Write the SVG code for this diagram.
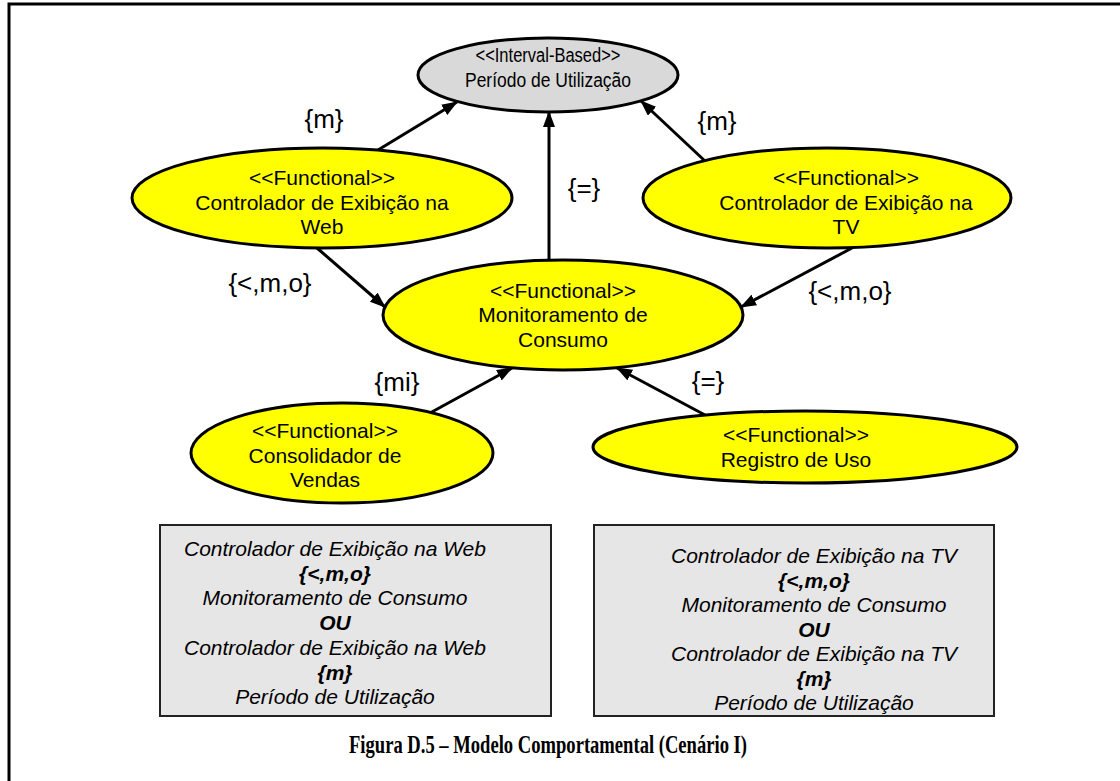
<svg xmlns="http://www.w3.org/2000/svg" width="1120" height="781" viewBox="0 0 1120 781">
<defs>
<style>
.node{fill:#ffff00;stroke:#000;stroke-width:3}
.gray{fill:#d9d9d9;stroke:#000;stroke-width:3}
.t{font-family:"Liberation Sans",Arial,sans-serif;font-size:21px;fill:#000;text-anchor:middle}
.ts{font-size:20px}
.lbl{font-family:"Liberation Sans",Arial,sans-serif;font-size:26px;fill:#000;text-anchor:middle}
.box{fill:#e6e6e6;stroke:#222;stroke-width:2}
.bt{font-family:"Liberation Sans",Arial,sans-serif;font-size:21px;font-style:italic;fill:#000;text-anchor:middle}
.bb{font-weight:bold}
.conn{stroke:#000;stroke-width:3;fill:none;marker-end:url(#arr)}
.cap{font-family:"Liberation Serif","Times New Roman",serif;font-size:25px;font-weight:bold;fill:#000;text-anchor:middle}
</style>
<marker id="arr" markerUnits="userSpaceOnUse" markerWidth="16" markerHeight="12" refX="15" refY="6" orient="auto">
<path d="M0,0 L16,6 L0,12 z" fill="#000"/>
</marker>
</defs>
<rect x="0" y="0" width="1120" height="781" fill="#fff"/>
<path d="M9,781 V4 H1120" fill="none" stroke="#000" stroke-width="3"/>

<g id="connectors">
<line class="conn" x1="378" y1="150" x2="457" y2="102"/>
<line class="conn" x1="549" y1="262" x2="549" y2="112"/>
<line class="conn" x1="705" y1="161" x2="641" y2="101"/>
<line class="conn" x1="317" y1="248" x2="385" y2="307"/>
<line class="conn" x1="852" y1="248" x2="741" y2="307"/>
<line class="conn" x1="430" y1="413" x2="512" y2="368"/>
<line class="conn" x1="705" y1="415" x2="617" y2="368"/>
<text class="lbl" x="324" y="128">{m}</text>
<text class="lbl" x="717" y="130">{m}</text>
<text class="lbl" x="584" y="197">{=}</text>
<text class="lbl" x="270" y="292">{&lt;,m,o}</text>
<text class="lbl" x="850" y="300">{&lt;,m,o}</text>
<text class="lbl" x="397" y="391">{mi}</text>
<text class="lbl" x="708" y="390">{=}</text>
</g>

<g id="periodo">
<ellipse class="gray" cx="548" cy="75" rx="130" ry="37"/>
<text class="t ts" x="548" y="62" textLength="145" lengthAdjust="spacingAndGlyphs">&lt;&lt;Interval-Based&gt;&gt;</text>
<text class="t ts" x="548" y="87" textLength="166" lengthAdjust="spacingAndGlyphs">Período de Utilização</text>
</g>

<g id="web">
<ellipse class="node" cx="322" cy="198" rx="190" ry="50"/>
<text class="t" x="322" y="185">&lt;&lt;Functional&gt;&gt;</text>
<text class="t" x="322" y="210">Controlador de Exibição na</text>
<text class="t" x="322" y="234">Web</text>
</g>

<g id="tv">
<ellipse class="node" cx="827" cy="198" rx="184" ry="50"/>
<text class="t" x="846" y="185">&lt;&lt;Functional&gt;&gt;</text>
<text class="t" x="846" y="210">Controlador de Exibição na</text>
<text class="t" x="846" y="234">TV</text>
</g>

<g id="monitoramento">
<ellipse class="node" cx="563" cy="315" rx="180" ry="55"/>
<text class="t" x="563" y="298">&lt;&lt;Functional&gt;&gt;</text>
<text class="t" x="563" y="322">Monitoramento de</text>
<text class="t" x="563" y="347">Consumo</text>
</g>

<g id="consolidador">
<ellipse class="node" cx="342" cy="453" rx="151" ry="50"/>
<text class="t" x="325" y="438">&lt;&lt;Functional&gt;&gt;</text>
<text class="t" x="325" y="463">Consolidador de</text>
<text class="t" x="325" y="487">Vendas</text>
</g>

<g id="registro">
<ellipse class="node" cx="805" cy="447" rx="212" ry="36"/>
<text class="t" x="796" y="442">&lt;&lt;Functional&gt;&gt;</text>
<text class="t" x="796" y="467">Registro de Uso</text>
</g>

<g id="nota-web">
<rect class="box" x="160" y="525" width="391" height="191"/>
<text class="bt" x="335" y="556">Controlador de Exibição na Web</text>
<text class="bt bb" x="335" y="580.7">{&lt;,m,o}</text>
<text class="bt" x="335" y="605.4">Monitoramento de Consumo</text>
<text class="bt bb" x="335" y="630.1">OU</text>
<text class="bt" x="335" y="654.8">Controlador de Exibição na Web</text>
<text class="bt bb" x="335" y="679.5">{m}</text>
<text class="bt" x="335" y="704.2">Período de Utilização</text>
</g>

<g id="nota-tv">
<rect class="box" x="594" y="525" width="400" height="191"/>
<text class="bt" x="814" y="563">Controlador de Exibição na TV</text>
<text class="bt bb" x="814" y="587.5">{&lt;,m,o}</text>
<text class="bt" x="814" y="612">Monitoramento de Consumo</text>
<text class="bt bb" x="814" y="636.5">OU</text>
<text class="bt" x="814" y="661">Controlador de Exibição na TV</text>
<text class="bt bb" x="814" y="685.5">{m}</text>
<text class="bt" x="814" y="710">Período de Utilização</text>
</g>

<text class="cap" x="548" y="753" textLength="398" lengthAdjust="spacingAndGlyphs">Figura D.5 – Modelo Comportamental (Cenário I)</text>
</svg>
